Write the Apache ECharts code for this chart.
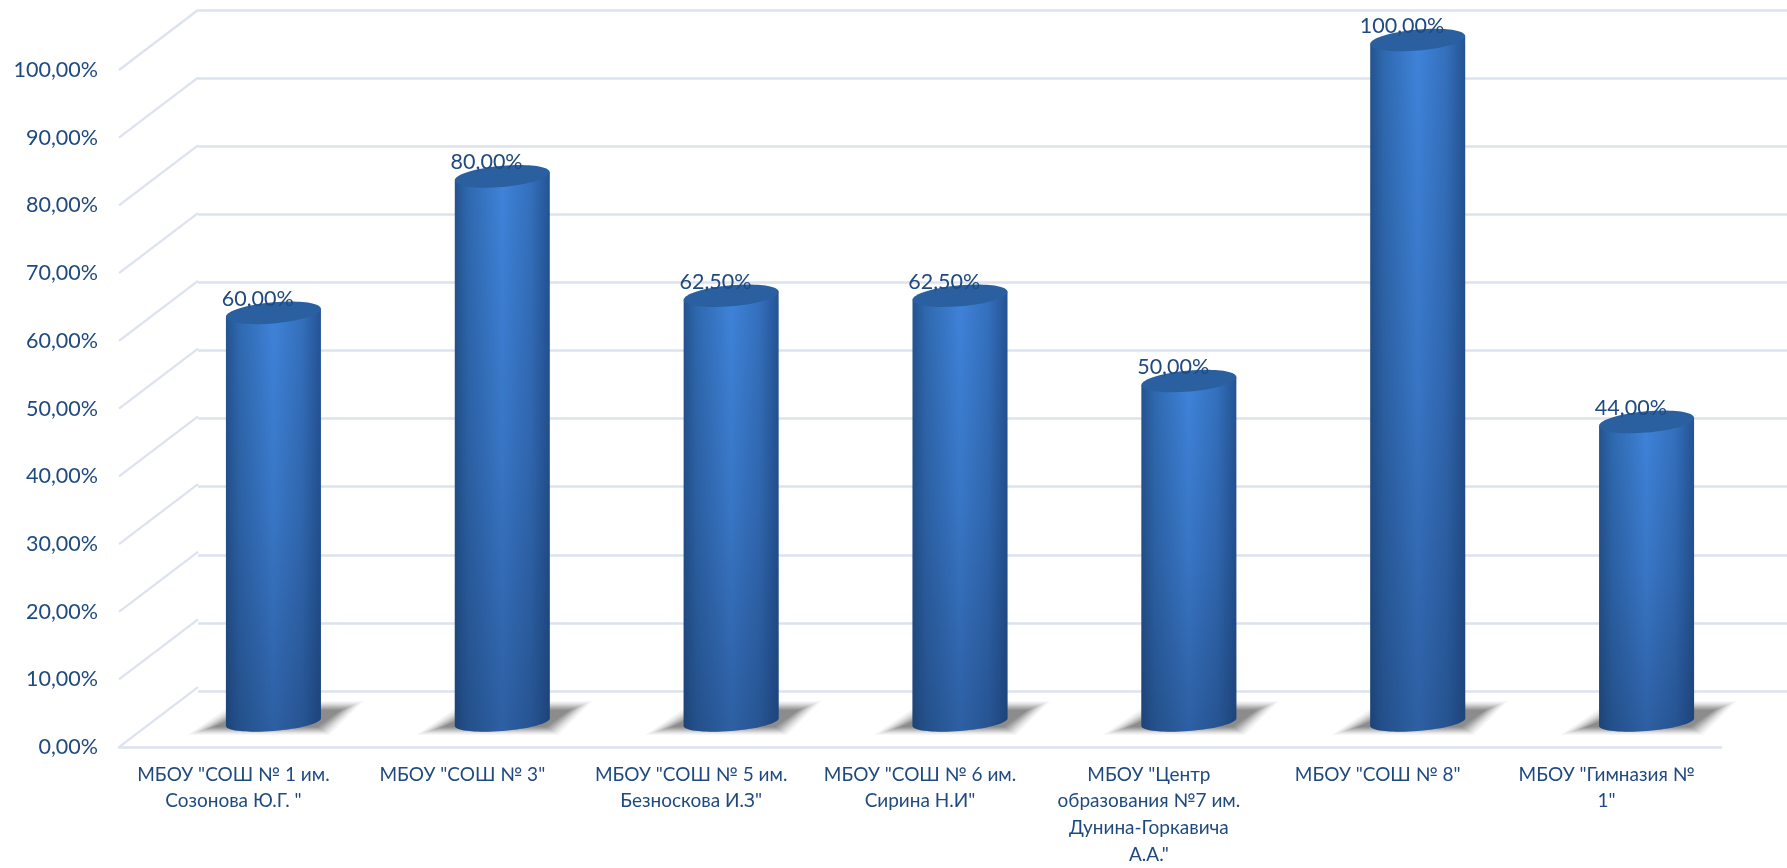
<!DOCTYPE html>
<html><head><meta charset="utf-8">
<style>html,body{margin:0;padding:0;background:#fff}#c{width:1787px;height:868px}</style>
<script src="https://cdn.jsdelivr.net/npm/echarts@6/dist/echarts.min.js"></script>
</head><body><div id="c"></div>
<script>
const categories = ['МБОУ "СОШ № 1 им.\nСозонова Ю.Г. "','МБОУ "СОШ № 3"','МБОУ "СОШ № 5 им.\nБезноскова И.З"','МБОУ "СОШ № 6 им.\nСирина Н.И"','МБОУ "Центр\nобразования №7 им.\nДунина-Горкавича\nА.А."','МБОУ "СОШ № 8"','МБОУ "Гимназия №\n1"'];
const values = [60,80,62.5,62.5,50,100,44];
const ticks = [0,10,20,30,40,50,60,70,80,90,100];
const TEXT='#1f4a80', GRID='#dce2ee', FONT='Lato, "Noto Sans", sans-serif';
const fmt = v => v.toFixed(2).replace('.',',')+'%';

// sheared ellipse path helpers (cylinder in perspective)
const C=0.5523;
function halfEllipse(ctx,cx,cy,a,b,k,dir,start){
  const P=(x,y)=>[cx+x, cy+y+k*x];
  const s=dir>0?-1:1, v=dir>0?1:-1;
  const p0=P(s*a,0),c1=P(s*a,v*b*C),c2=P(s*a*C,v*b),p1=P(0,v*b),c3=P(-s*a*C,v*b),c4=P(-s*a,v*b*C),p2=P(-s*a,0);
  if(start) ctx.moveTo(p0[0],p0[1]);
  ctx.bezierCurveTo(c1[0],c1[1],c2[0],c2[1],p1[0],p1[1]);
  ctx.bezierCurveTo(c3[0],c3[1],c4[0],c4[1],p2[0],p2[1]);
}
echarts.graphic.registerShape('cylBody',echarts.graphic.extendShape({
  shape:{cx:0,yt:0,yb:0,a:0,b:0,k:0,kb:0},
  buildPath(ctx,s){
    ctx.moveTo(s.cx-s.a,s.yt-s.k*s.a);
    ctx.lineTo(s.cx-s.a,s.yb-s.kb*s.a);
    halfEllipse(ctx,s.cx,s.yb,s.a,s.b,s.kb,1,false);
    ctx.lineTo(s.cx+s.a,s.yt+s.k*s.a);
    ctx.closePath();
  }
}));
echarts.graphic.registerShape('cylTop',echarts.graphic.extendShape({
  shape:{cx:0,cy:0,a:0,b:0,k:0},
  buildPath(ctx,s){
    halfEllipse(ctx,s.cx,s.cy,s.a,s.b,s.k,1,true);
    halfEllipse(ctx,s.cx,s.cy,s.a,s.b,s.k,-1,false);
    ctx.closePath();
  }
}));

const SHADOW_SHADES=['#f7f7f7','#efefef','#e5e5e5','#d9d9d9','#cccccc','#bebebe','#b0b0b0','#a3a3a3','#979797','#8c8c8c'];
const mix=(a,b,t)=>a+(b-a)*t;
function shadowLayers(cx,by){
  const n=SHADOW_SHADES.length-1;
  return SHADOW_SHADES.map((fill,i)=>{
    const t=i/n;
    return {type:'polygon',shape:{points:[
      [cx+mix(-86,-60,t),by+mix(13,5,t)],[cx+mix(56,44,t),by+mix(13,5,t)],
      [cx+mix(90,68,t),by+mix(-21,-12,t)],[cx+mix(-36,-22,t),by+mix(-21,-12,t)]
    ]},style:{fill}};
  });
}
function renderCylinder(params,api){
  const v=api.value(1), top=api.coord([api.value(0),v]), base=api.coord([api.value(0),0]);
  const a=47.5,cx=top[0];
  const body={cx,yt:top[1],yb:base[1],a,b:9,k:-0.085,kb:-0.08};
  return {type:'group',children:[
    ...shadowLayers(cx,base[1]),
    {type:'cylBody',shape:body,style:{fill:{type:'linear',x:0,y:0,x2:1,y2:0,colorStops:[{offset:0,color:'#24538f'},{offset:.14,color:'#2f69b0'},{offset:.5,color:'#3f83da'},{offset:.8,color:'#3470bd'},{offset:1,color:'#245394'}]}}},
    {type:'cylBody',shape:body,style:{fill:{type:'linear',x:0,y:0,x2:0,y2:1,colorStops:[{offset:0,color:'rgba(20,45,85,0)'},{offset:.5,color:'rgba(20,45,85,.16)'},{offset:1,color:'rgba(20,45,85,.42)'}]}}},
    {type:'cylTop',shape:{cx,cy:top[1],a,b:10.6,k:-0.085},style:{fill:'#2a609f'}},
    {type:'text',style:{text:fmt(v),x:cx-15.7,y:top[1]-14,align:'center',verticalAlign:'middle',fill:TEXT,font:'21.5px '+FONT}}
  ]};
}
function renderDiagonal(params,api){
  const p=api.coord([0,api.value(0)]), half=api.size([1,0])[0]/2;
  const x=p[0]-half;
  return {type:'line',shape:{x1:x,y1:p[1],x2:x+79,y2:p[1]-60},style:{stroke:GRID,lineWidth:2.2}};
}
const hiddenAxis={show:false};
const chart=echarts.init(document.getElementById('c'),null,{renderer:'canvas'});
chart.setOption({
  animation:false,backgroundColor:'#fff',
  grid:[
    {left:119,width:1602,top:70,height:681},
    {left:198,width:1602,top:10,height:681},
    {left:159,width:1602,top:40,height:682}
  ],
  xAxis:[
    {gridIndex:0,type:'category',data:categories,axisTick:{show:false},axisLine:{lineStyle:{color:GRID,width:2.6}},
     axisLabel:{interval:0,margin:14,color:TEXT,fontFamily:FONT,fontSize:19,lineHeight:26.7,verticalAlign:'top'}},
    {gridIndex:1,type:'category',data:categories,...hiddenAxis},
    {gridIndex:2,type:'category',data:categories,...hiddenAxis}
  ],
  yAxis:[
    {gridIndex:0,type:'value',min:0,max:100,interval:10,axisLine:{show:false},axisTick:{show:false},splitLine:{show:false},
     axisLabel:{formatter:fmt,margin:21,color:TEXT,fontFamily:FONT,fontSize:21.5}},
    {gridIndex:1,type:'value',min:0,max:100,interval:10,axisLine:{show:false},axisTick:{show:false},axisLabel:{show:false},
     splitLine:{show:true,lineStyle:{color:GRID,width:2.6}}},
    {gridIndex:2,type:'value',min:0,max:100,interval:10,show:false}
  ],
  series:[
    {type:'custom',xAxisIndex:0,yAxisIndex:0,data:ticks.map(t=>[t]),encode:{y:0},renderItem:renderDiagonal,silent:true,z:1,clip:false},
    {type:'custom',xAxisIndex:2,yAxisIndex:2,data:values.map((v,i)=>[i,v]),encode:{x:0,y:1},renderItem:renderCylinder,silent:true,z:5,clip:false}
  ]
});
</script></body></html>
